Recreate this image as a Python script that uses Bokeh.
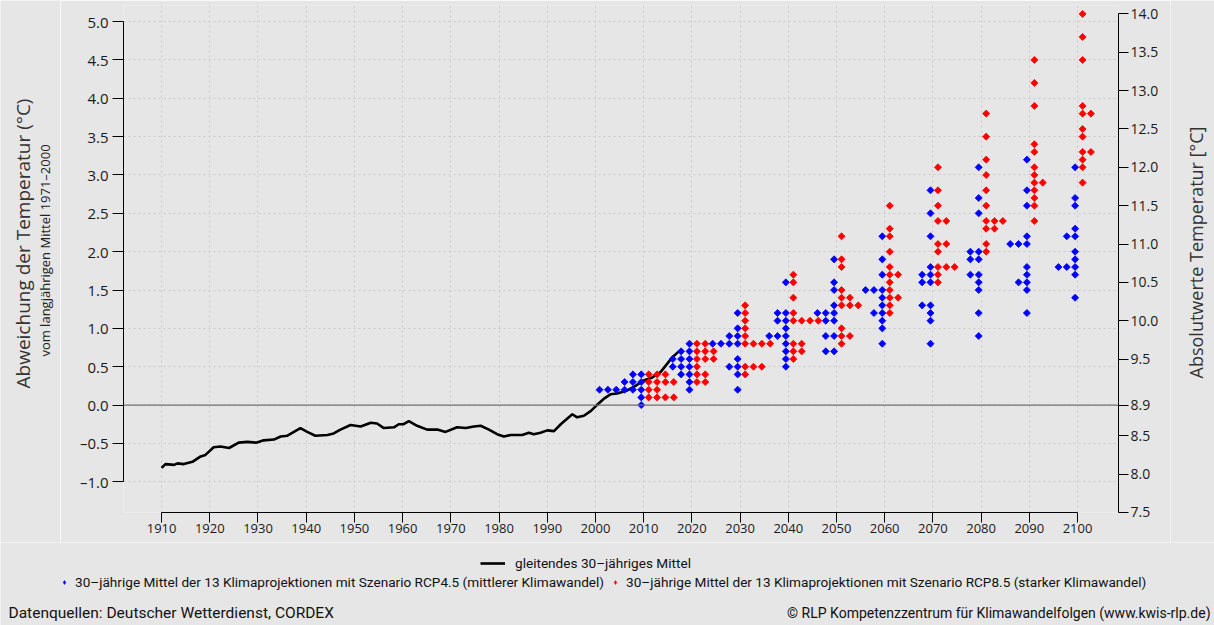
import math
import numpy as np
from bokeh.plotting import figure
from bokeh.layouts import column, row
from bokeh.models import (Range1d, LinearAxis, FixedTicker, Span, Label,
                          Legend, LegendItem)
from bokeh.embed import file_html
from bokeh.resources import INLINE

# ---------------- data ----------------
line_year = [1910.0, 1910.8, 1912.6, 1913.3, 1914.6, 1916.4, 1918.1, 1919.1, 1920.8, 1922.2,
             1924.0, 1926.0, 1927.8, 1929.6, 1931.2, 1933.3, 1934.7, 1936.1, 1938.8, 1940.2,
             1941.9, 1944.4, 1945.7, 1947.1, 1949.2, 1951.3, 1953.4, 1954.7, 1956.1, 1958.2,
             1959.2, 1960.2, 1961.3, 1963.0, 1965.1, 1967.2, 1968.9, 1971.3, 1973.1, 1974.8,
             1976.2, 1977.9, 1979.6, 1981.0, 1982.4, 1984.8, 1986.2, 1987.2, 1988.6, 1990.0,
             1991.4, 1992.8, 1995.2, 1996.2, 1997.6, 1999.0, 2000.3, 2001.7, 2003.1, 2004.5,
             2006.6, 2008.3, 2010.0, 2011.8, 2013.5, 2014.9, 2015.9, 2017.3, 2017.8]
line_anom = [-0.82, -0.77, -0.78, -0.76, -0.77, -0.74, -0.67, -0.65, -0.55, -0.54,
             -0.56, -0.49, -0.48, -0.49, -0.46, -0.45, -0.41, -0.40, -0.30, -0.35,
             -0.40, -0.39, -0.37, -0.32, -0.26, -0.28, -0.23, -0.24, -0.30, -0.29,
             -0.25, -0.25, -0.21, -0.27, -0.32, -0.32, -0.35, -0.29, -0.30, -0.28,
             -0.27, -0.32, -0.38, -0.41, -0.39, -0.39, -0.36, -0.38, -0.36, -0.33,
             -0.34, -0.25, -0.12, -0.16, -0.14, -0.08, 0.00, 0.08, 0.14, 0.15,
             0.19, 0.25, 0.32, 0.36, 0.43, 0.54, 0.62, 0.70, 0.72]

proj_years = [2010, 2020, 2030, 2040, 2050, 2060, 2070, 2080, 2090, 2100]

rcp45_2010 = [0.4, 0.4, 0.3, 0.3, 0.3, 0.2, 0.2, 0.2, 0.2, 0.2, 0.2, 0.1, 0.0]
rcp45_2020 = [0.8, 0.7, 0.7, 0.6, 0.6, 0.6, 0.5, 0.5, 0.5, 0.4, 0.4, 0.3, 0.2]
rcp45_2030 = [1.2, 1.0, 0.9, 0.9, 0.8, 0.8, 0.8, 0.8, 0.6, 0.5, 0.5, 0.4, 0.2]
rcp45_2040 = [1.6, 1.2, 1.2, 1.1, 1.1, 1.0, 0.9, 0.9, 0.9, 0.8, 0.7, 0.6, 0.5]
rcp45_2050 = [1.9, 1.6, 1.5, 1.3, 1.2, 1.2, 1.2, 1.1, 1.1, 0.9, 0.9, 0.7, 0.7]
rcp45_2060 = [2.2, 1.9, 1.7, 1.5, 1.5, 1.5, 1.4, 1.3, 1.2, 1.2, 1.1, 1.0, 0.8]
rcp45_2070 = [2.8, 2.5, 2.2, 1.8, 1.7, 1.7, 1.6, 1.6, 1.3, 1.3, 1.2, 1.1, 0.8]
rcp45_2080 = [3.1, 2.7, 2.5, 2.0, 2.0, 1.9, 1.9, 1.7, 1.7, 1.6, 1.5, 1.2, 0.9]
rcp45_2090 = [3.2, 2.8, 2.6, 2.2, 2.1, 2.1, 2.1, 1.8, 1.7, 1.6, 1.6, 1.5, 1.2]
rcp45_2100 = [3.1, 2.7, 2.6, 2.3, 2.2, 2.2, 2.0, 1.9, 1.8, 1.8, 1.8, 1.7, 1.4]

rcp85_2010 = [0.4, 0.4, 0.4, 0.3, 0.3, 0.3, 0.3, 0.2, 0.2, 0.1, 0.1, 0.1, 0.1]
rcp85_2020 = [0.8, 0.8, 0.7, 0.7, 0.7, 0.6, 0.6, 0.6, 0.5, 0.4, 0.4, 0.3, 0.3]
rcp85_2030 = [1.3, 1.2, 1.1, 1.0, 0.9, 0.8, 0.8, 0.8, 0.8, 0.5, 0.5, 0.5, 0.4]
rcp85_2040 = [1.7, 1.6, 1.4, 1.2, 1.1, 1.1, 1.1, 1.1, 0.8, 0.8, 0.7, 0.7, 0.6]
rcp85_2050 = [2.2, 1.9, 1.8, 1.5, 1.4, 1.4, 1.3, 1.3, 1.3, 1.0, 0.9, 0.9, 0.8]
rcp85_2060 = [2.6, 2.3, 2.2, 2.0, 1.8, 1.7, 1.7, 1.6, 1.5, 1.4, 1.4, 1.3, 1.2]
rcp85_2070 = [3.1, 2.8, 2.6, 2.4, 2.4, 2.1, 2.1, 2.0, 1.8, 1.8, 1.8, 1.7, 1.6]
rcp85_2080 = [3.8, 3.5, 3.2, 3.0, 2.8, 2.6, 2.4, 2.4, 2.4, 2.3, 2.3, 2.1, 2.0]
rcp85_2090 = [4.5, 4.2, 3.9, 3.4, 3.3, 3.1, 3.0, 2.9, 2.9, 2.8, 2.7, 2.6, 2.4]
rcp85_2100 = [5.1, 4.8, 4.5, 3.9, 3.8, 3.8, 3.6, 3.5, 3.3, 3.3, 3.2, 3.1, 2.9]

rcp45_groups = [rcp45_2010, rcp45_2020, rcp45_2030, rcp45_2040, rcp45_2050,
                rcp45_2060, rcp45_2070, rcp45_2080, rcp45_2090, rcp45_2100]
rcp85_groups = [rcp85_2010, rcp85_2020, rcp85_2030, rcp85_2040, rcp85_2050,
                rcp85_2060, rcp85_2070, rcp85_2080, rcp85_2090, rcp85_2100]

x_ticks = list(range(1910, 2101, 10))
left_ticks = [-1.0, -0.5, 0.0, 0.5, 1.0, 1.5, 2.0, 2.5, 3.0, 3.5, 4.0, 4.5, 5.0]
right_ticks = [7.5, 8.0, 8.5, 8.9, 9.5, 10.0, 10.5, 11.0, 11.5, 12.0, 12.5, 13.0, 13.5, 14.0]
ref_abs = 8.9  # absolute temperature of the 1971-2000 mean

# ---------------- layout constants ----------------
BG = "#e6e6e6"
FONT = "Open Sans"
LEGFONT = "Roboto"
W, H = 1214, 625
LW, RW = 60, 44                  # side strips holding the axis titles
x_start, x_end = 1902.1, 2108.5
y_start, y_end = -1.401, 5.21
FW, FH = 995, 507
ML, MT = 123 - LW, 5
MR = W - LW - RW - ML - FW
MB = 30
H1 = MT + FH + MB
H2 = H - H1


def stack(groups, base, step):
    xs, ys = [], []
    for T, vals in zip(proj_years, groups):
        counts = {}
        for v in vals:
            k = counts.get(v, 0)
            counts[v] = k + 1
            xs.append(T + base + step * k)
            ys.append(v)
    return xs, ys


bx, by = stack(rcp45_groups, -0.5, -1.73)
rx, ry = stack(rcp85_groups, 1.05, 1.73)

p = figure(frame_width=FW, frame_height=FH,
           x_range=Range1d(x_start, x_end), y_range=Range1d(y_start, y_end),
           output_backend="svg", toolbar_location=None,
           min_border_left=ML, min_border_right=MR, min_border_top=MT, min_border_bottom=MB,
           background_fill_color=BG, border_fill_color=BG, outline_line_color=None)
p.frame_align = False

# grid
p.xgrid.ticker = FixedTicker(ticks=x_ticks)
p.ygrid.ticker = FixedTicker(ticks=left_ticks)
for g in (p.xgrid, p.ygrid):
    g.grid_line_color = "#cbcbcb"
    g.grid_line_dash = "2 3"
    g.grid_line_width = 1

# zero line
p.add_layout(Span(location=0, dimension="width", line_color="#707070", line_width=1.2))

# series
MARK = dict(marker="square", angle=np.pi / 4, size=5.0, line_width=0.8)
LINE = dict(line_color="black", line_width=2.6)
line_r = p.line(line_year, line_anom, **LINE)
blue_r = p.scatter(bx, by, fill_color="#0000ff", line_color="#0000ff", **MARK)
red_r = p.scatter(rx, ry, fill_color="#ff0000", line_color="#ff0000", **MARK)

# x axis
xa = p.xaxis[0]
xa.ticker = FixedTicker(ticks=x_ticks)
xa.bounds = (1910, 2100)
xa.major_tick_out = 10
xa.major_tick_in = 0
xa.minor_tick_line_color = None
xa.axis_line_color = "black"
xa.major_tick_line_color = "black"
xa.major_label_text_font = FONT
xa.major_label_text_font_size = "13px"
xa.major_label_text_color = "#1a1a1a"
xa.major_label_standoff = 1

# left axis
ya = p.yaxis[0]
ya.ticker = FixedTicker(ticks=left_ticks)
ya.bounds = (-1.0, 5.0)
ya.major_label_overrides = {t: ("%.1f" % t).replace("-", "\u2013") for t in left_ticks}
ya.major_tick_out = 11
ya.major_tick_in = 0
ya.minor_tick_line_color = None
ya.axis_line_color = "black"
ya.major_tick_line_color = "black"
ya.major_label_text_font = FONT
ya.major_label_text_font_size = "15px"
ya.major_label_text_color = "#1a1a1a"
ya.major_label_standoff = 4

# right axis (absolute temperature)
p.extra_y_ranges = {"abs": Range1d(y_start + ref_abs, y_end + ref_abs)}
ra = LinearAxis(y_range_name="abs", ticker=FixedTicker(ticks=right_ticks), bounds=(7.5, 14.0))
ra.major_label_overrides = {t: "%.1f" % t for t in right_ticks}
ra.major_tick_out = 10
ra.major_tick_in = 0
ra.minor_tick_line_color = None
ra.axis_line_color = "black"
ra.major_tick_line_color = "black"
ra.major_label_text_font = FONT
ra.major_label_text_font_size = "14px"
ra.major_label_text_color = "#1a1a1a"
ra.major_label_standoff = 2
p.add_layout(ra, "right")


def strip(width, height, y_top):
    f = figure(width=width, height=height, x_range=Range1d(0, width),
               y_range=Range1d(y_top + height, y_top),
               output_backend="svg", toolbar_location=None,
               x_axis_type=None, y_axis_type=None, min_border=0,
               background_fill_color=BG, border_fill_color=BG, outline_line_color=None)
    f.grid.visible = False
    f.frame_align = False
    return f


# ---------------- left strip: axis titles ----------------
lft = strip(LW, H1, 0)
lft.add_layout(Label(x=22, y=243, text="Abweichung der Temperatur (°C)", angle=np.pi / 2,
                     text_font=FONT, text_font_size="19px", text_color="#333333",
                     text_align="center", text_baseline="middle"))
lft.add_layout(Label(x=44, y=250, text="vom langjährigen Mittel 1971\u20132000", angle=np.pi / 2,
                     text_font=FONT, text_font_size="13px", text_color="#222222",
                     text_align="center", text_baseline="middle"))

# ---------------- right strip: axis title ----------------
rgt = strip(RW, H1, 0)
rgt.add_layout(Label(x=1195 - (W - RW), y=252, text="Absolutwerte Temperatur [°C]",
                     angle=np.pi / 2, text_font=FONT, text_font_size="18px",
                     text_color="#333333", text_align="center", text_baseline="middle"))

# ---------------- bottom strip: legends + sources ----------------
q = strip(W, H2, H1)

# legend swatches (single off-canvas sample each, styled like the series)
off_x, off_y = [-50, -40], [H1 + 10, H1 + 10]
SWATCH = dict(marker="diamond", size=10, line_width=0.5)
leg_line = q.line(off_x, off_y, **LINE)
leg_blue = q.scatter(off_x[:1], off_y[:1], fill_color="#0000ff", line_color="#0000ff", **SWATCH)
leg_red = q.scatter(off_x[:1], off_y[:1], fill_color="#ff0000", line_color="#ff0000", **SWATCH)

LEG = dict(background_fill_alpha=0, border_line_alpha=0, padding=0, margin=0,
           glyph_height=14, label_height=14, orientation="horizontal",
           label_text_font=LEGFONT, label_text_font_size="13.6px", label_text_color="#111111")
leg1 = Legend(items=[LegendItem(label="gleitendes 30\u2013jähriges Mittel", renderers=[leg_line])],
              location=(480, H - 571), glyph_width=25, label_standoff=10, **LEG)
leg2 = Legend(items=[
    LegendItem(label="30\u2013jährige Mittel der 13 Klimaprojektionen mit Szenario RCP4.5 (mittlerer Klimawandel)",
               renderers=[leg_blue]),
    LegendItem(label="30\u2013jährige Mittel der 13 Klimaprojektionen mit Szenario RCP8.5 (starker Klimawandel)",
               renderers=[leg_red])],
    location=(59, H - 590), glyph_width=10, label_standoff=6, spacing=6, **LEG)
q.add_layout(leg1)
q.add_layout(leg2)

q.add_layout(Label(x=8, y=612, text="Datenquellen: Deutscher Wetterdienst, CORDEX",
                   text_font=LEGFONT, text_font_size="15.5px", text_color="#111111",
                   text_align="left", text_baseline="middle"))
q.add_layout(Label(x=1210, y=612,
                   text="© RLP Kompetenzzentrum für Klimawandelfolgen (www.kwis-rlp.de)",
                   text_font=LEGFONT, text_font_size="14px", text_color="#111111",
                   text_align="right", text_baseline="middle"))

layout = column(row(lft, p, rgt, spacing=0), q, spacing=0)
open("out.html", "w").write(file_html(layout, INLINE))
